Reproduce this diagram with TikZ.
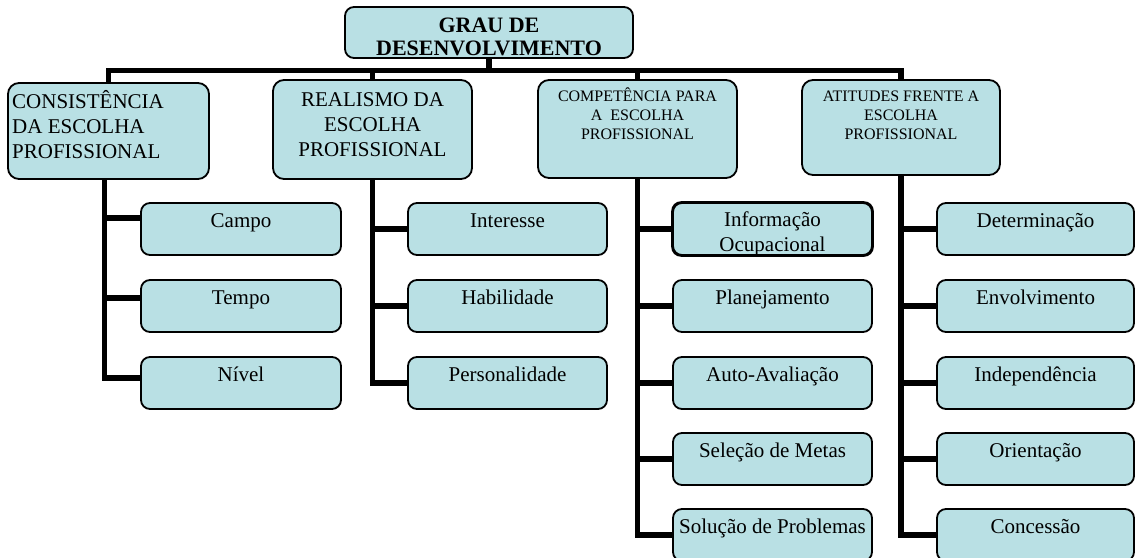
\documentclass[tikz,border=0pt]{standalone}
\usepackage{fontspec}
\setmainfont{Liberation Serif}
\definecolor{boxfill}{RGB}{185,224,228}
\tikzset{
  box/.style={draw=black, line width=1.8pt, fill=boxfill, rounded corners=#1, inner sep=0pt},
  box/.default=9pt,
  conn/.style={draw=black, line width=5.5pt},
  big/.style={font=\fontsize{21pt}{25pt}\selectfont},
  small/.style={font=\fontsize{16pt}{19pt}\selectfont},
  head/.style={font=\fontsize{22pt}{23pt}\selectfont\bfseries},
  txt/.style={inner sep=0pt, anchor=base}
}
\begin{document}
\begin{tikzpicture}[x=1pt,y=-1pt]
\useasboundingbox (0,0) rectangle (1135,557);
\coordinate (bar) at (0,70.5);

% boxes
\node[box=9pt, minimum width=288pt, minimum height=51pt] (top) at (489,32.5) {};
\node[box=11pt, minimum width=201pt, minimum height=96pt] (cons) at (108.5,131) {};
\node[box=11pt, minimum width=199pt, minimum height=99pt] (real) at (372.5,129.5) {};
\node[box=11pt, minimum width=199pt, minimum height=98pt] (comp) at (637.5,129) {};
\node[box=11pt, minimum width=198pt, minimum height=95pt] (atit) at (901,127.5) {};

% level 1 connectors
\draw[conn] (top.south) -- (top.south |- bar);
\draw[conn] (cons.north) -- (cons.north |- bar) -- (atit.north |- bar) -- (atit.north);
\draw[conn] (real.north) -- (real.north |- bar);
\draw[conn] (comp.north) -- (comp.north |- bar);

% children
\foreach \n/\x/\y/\w in {campo/241/229/200, tempo/241/306/200, nivel/241/383/200,
  inte/507.5/229/199, habi/507.5/306/199, pers/507.5/383/199,
  info/772.5/229/199, plan/772.5/306/199, auto/772.5/383/199, sele/772.5/459/199, solu/772.5/535/199,
  dete/1035.5/229/197, envo/1035.5/306/197, inde/1035.5/383/197, orie/1035.5/459/197, conc/1035.5/535/197}
  {\node[box, minimum width=\w pt, minimum height=52pt] (\n) at (\x,\y) {};}

% trunks and branches
\draw[conn] ([xshift=-4pt]cons.south) |- ([yshift=5pt]nivel.west);
\draw[conn] ([xshift=-4pt]cons.south |- campo.west) ++(0,-11) -- ([yshift=11pt]campo.west);
\draw[conn] ([xshift=-4pt]cons.south |- tempo.west) ++(0,-8) -- ([yshift=8pt]tempo.west);

\draw[conn] (real.south) |- (pers.west);
\draw[conn] (real.south |- inte.west) -- (inte.west);
\draw[conn] (real.south |- habi.west) -- (habi.west);

\draw[conn] (comp.south) |- (solu.west);
\draw[conn] (comp.south |- info.west) -- (info.west);
\draw[conn] (comp.south |- plan.west) -- (plan.west);
\draw[conn] (comp.south |- auto.west) -- (auto.west);
\draw[conn] (comp.south |- sele.west) -- (sele.west);

\draw[conn] (atit.south) |- (conc.west);
\draw[conn] (atit.south |- dete.west) -- (dete.west);
\draw[conn] (atit.south |- envo.west) -- (envo.west);
\draw[conn] (atit.south |- inde.west) -- (inde.west);
\draw[conn] (atit.south |- orie.west) -- (orie.west);

% texts
\node[txt, head] (topT) at (489,32) {\parbox[t]{280pt}{\centering GRAU DE\\DESENVOLVIMENTO}};
\node[txt, big, anchor=base west] (consT) at (12,108) {\parbox[t]{195pt}{\raggedright CONSISTÊNCIA\\DA ESCOLHA\\PROFISSIONAL}};
\node[txt, big] (realT) at (372.5,106) {\parbox[t]{195pt}{\centering REALISMO DA\\ESCOLHA\\PROFISSIONAL}};
\node[txt, small] (compT) at (637.5,101) {\parbox[t]{195pt}{\centering COMPETÊNCIA PARA\\A\ \ ESCOLHA\\PROFISSIONAL}};
\node[txt, small] (atitT) at (901,101) {\parbox[t]{195pt}{\centering ATITUDES FRENTE A\\ESCOLHA\\PROFISSIONAL}};

\foreach \n/\t in {campo/Campo, tempo/Tempo, nivel/Nível, inte/Interesse, habi/Habilidade,
  pers/Personalidade, plan/Planejamento, auto/Auto-Avaliação, sele/Seleção de Metas,
  solu/Solução de Problemas, dete/Determinação, envo/Envolvimento, inde/Independência,
  orie/Orientação, conc/Concessão}
  {\path (\n.north) ++(0,25) node[txt, big] (\n L) {\t};}

\begin{scope}
  \clip[rounded corners=9pt] (info.south west) rectangle (info.north east);
  \path (info.north) ++(0,24) node[txt, big] (infoL) {\parbox[t]{195pt}{\centering Informação\\Ocupacional}};
\end{scope}
\draw[line width=1.8pt, rounded corners=9pt] (info.south west) rectangle (info.north east);
\end{tikzpicture}
\end{document}
